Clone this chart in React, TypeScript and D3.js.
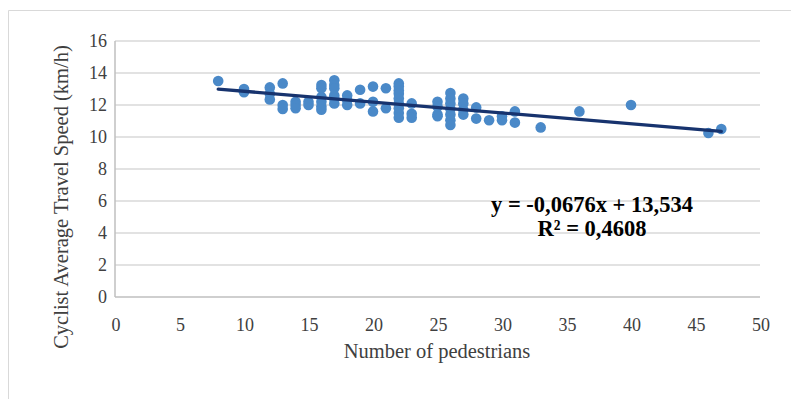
import { useMemo } from 'react';
import * as d3 from 'd3';

// pedestrians per observation and the matching cyclist speed
const pedestrians = [
  8,
  10, 10,
  12, 12, 12,
  13, 13, 13,
  14, 14, 14,
  15, 15,
  16, 16, 16, 16, 16, 16,
  17, 17, 17, 17, 17, 17,
  18, 18, 18,
  19, 19,
  20, 20, 20,
  21, 21,
  22, 22, 22, 22, 22, 22, 22, 22, 22,
  23, 23, 23,
  25, 25, 25, 25,
  26, 26, 26, 26, 26, 26, 26,
  27, 27, 27, 27,
  28, 28,
  29,
  30, 30,
  31, 31,
  33,
  36,
  40,
  46,
  47,
];
const speeds = [
  13.5,
  13.0, 12.8,
  13.1, 12.7, 12.35,
  13.35, 12.0, 11.75,
  12.2, 12.0, 11.8,
  12.2, 12.0,
  13.25, 13.05, 12.5, 12.2, 11.9, 11.7,
  13.55, 13.25, 13.05, 12.6, 12.4, 12.1,
  12.6, 12.3, 12.0,
  12.95, 12.1,
  13.15, 12.2, 11.6,
  13.05, 11.8,
  13.35, 13.15, 12.9, 12.7, 12.4, 12.1, 11.8, 11.5, 11.2,
  12.1, 11.45, 11.2,
  12.2, 11.9, 11.4, 11.3,
  12.75, 12.4, 12.1, 11.75, 11.4, 11.05, 10.75,
  12.4, 12.1, 11.7, 11.4,
  11.85, 11.15,
  11.05,
  11.3, 11.05,
  11.6, 10.9,
  10.6,
  11.6,
  12.0,
  10.25,
  10.5,
];

const xTicks = [0, 5, 10, 15, 20, 25, 30, 35, 40, 45, 50];
const yTicks = [0, 2, 4, 6, 8, 10, 12, 14, 16];

// linear trend from the original chart
const slope = -0.0676;
const intercept = 13.534;
const trendRange = [8, 47];
const equationLabel = 'y = -0,0676x + 13,534';
const r2Label = 'R² = 0,4608';

const W = 791;
const H = 399;
const font = '"Liberation Serif", "Times New Roman", serif';

export default function App() {
  const x = useMemo(() => d3.scaleLinear().domain([0, 50]).range([115, 760]), []);
  const y = useMemo(() => d3.scaleLinear().domain([0, 16]).range([297, 41]), []);

  const trend = d3.line<number>()
    .x(d => x(d))
    .y(d => y(intercept + slope * d))(trendRange);

  return (
    <svg width={W} height={H} style={{ position: 'absolute', left: 0, top: 0, background: '#fff' }}>
      {/* chart frame */}
      <path d={`M8.5,${H + 2} V10.5 H${W + 2}`} fill="none" stroke="#d9d9d9" strokeWidth={1} />

      {/* gridlines */}
      {yTicks.filter(t => t > 0).map(t => (
        <line key={t} x1={x(0)} x2={x(50)} y1={y(t)} y2={y(t)} stroke="#d9d9d9" strokeWidth={1.5} />
      ))}
      {/* axes */}
      <line x1={x(0)} x2={x(50)} y1={y(0)} y2={y(0)} stroke="#bfbfbf" strokeWidth={1.5} />
      <line x1={x(0)} x2={x(0)} y1={y(16)} y2={y(0)} stroke="#bfbfbf" strokeWidth={1.5} />

      {/* tick labels */}
      {yTicks.map(t => (
        <text key={t} x={107} y={y(t) + 6} textAnchor="end" fontFamily={font} fontSize={18} fill="#404040">
          {t}
        </text>
      ))}
      {xTicks.map(t => (
        <text key={t} x={x(t) + 1} y={331} textAnchor="middle" fontFamily={font} fontSize={18} fill="#404040">
          {t}
        </text>
      ))}

      {/* axis titles */}
      <text x={437} y={358} textAnchor="middle" fontFamily={font} fontSize={20.5} fill="#404040">
        Number of pedestrians
      </text>
      <text transform="translate(68,197) rotate(-90)" textAnchor="middle" fontFamily={font} fontSize={20.5} fill="#404040">
        Cyclist Average Travel Speed (km/h)
      </text>

      {/* points */}
      {pedestrians.map((p, i) => (
        <circle key={i} cx={x(p)} cy={y(speeds[i])} r={5.3} fill="#4a89c8" />
      ))}

      {/* trendline */}
      <path d={trend || ''} fill="none" stroke="#17336e" strokeWidth={3.3} strokeLinecap="round" />

      {/* equation */}
      <text x={592} y={212} textAnchor="middle" fontFamily={font} fontSize={22.5} fontWeight="bold" fill="#000">
        {equationLabel}
      </text>
      <text x={592} y={236} textAnchor="middle" fontFamily={font} fontSize={22.5} fontWeight="bold" fill="#000">
        {r2Label}
      </text>
    </svg>
  );
}
